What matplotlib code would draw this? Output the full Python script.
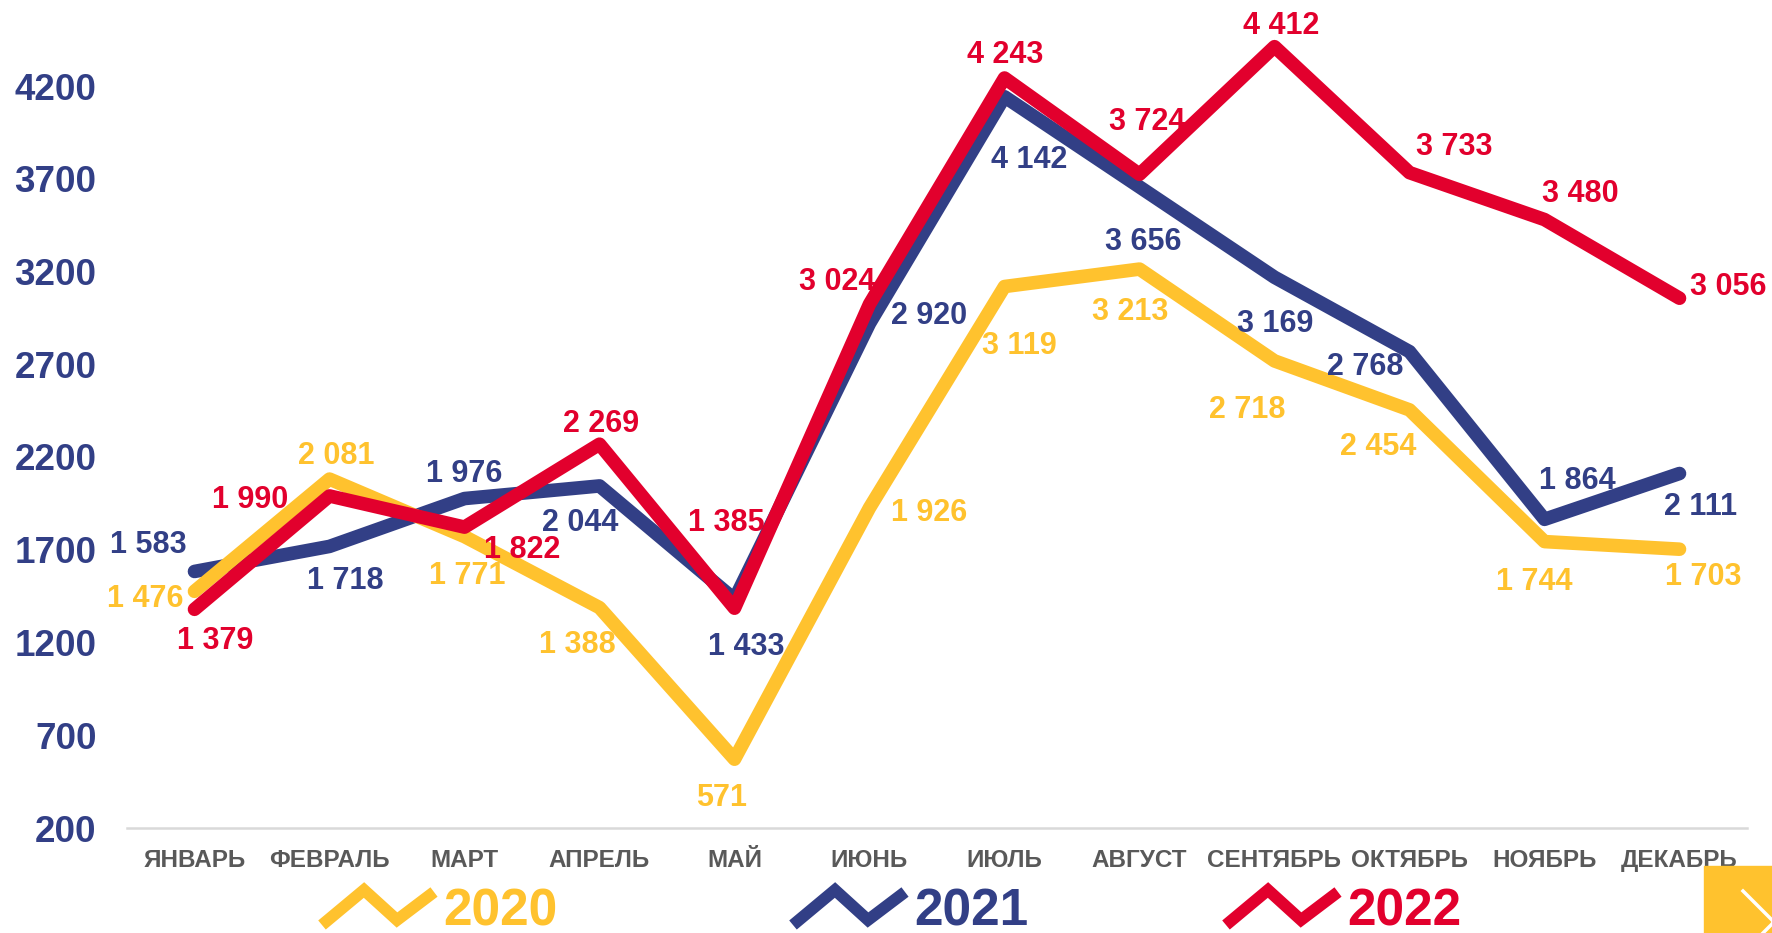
import matplotlib
matplotlib.use("Agg")
import matplotlib.pyplot as plt
from matplotlib.lines import Line2D
from matplotlib.patches import Rectangle

plt.rcParams['font.family'] = ['Liberation Sans', 'DejaVu Sans']

# данные
months = ['ЯНВАРЬ', 'ФЕВРАЛЬ', 'МАРТ', 'АПРЕЛЬ', 'МАЙ', 'ИЮНЬ', 'ИЮЛЬ',
          'АВГУСТ', 'СЕНТЯБРЬ', 'ОКТЯБРЬ', 'НОЯБРЬ', 'ДЕКАБРЬ']
y2020 = [1476, 2081, 1771, 1388, 571, 1926, 3119, 3213, 2718, 2454, 1744, 1703]
y2021 = [1583, 1718, 1976, 2044, 1433, 2920, 4142, 3656, 3169, 2768, 1864, 2111]
y2022 = [1379, 1990, 1822, 2269, 1385, 3024, 4243, 3724, 4412, 3733, 3480, 3056]
years = ['2020', '2021', '2022']
yticks = [200, 700, 1200, 1700, 2200, 2700, 3200, 3700, 4200]

c_yel = '#FFC22E'
c_navy = '#323F86'
c_red = '#E2002D'

# смещения подписей (пиксели, y вниз)
off2020 = [(-44, 4), (6, -23), (2, 32), (-20, 30), (-11, 31), (53, 2), (13, 50),
           (-8, 35), (-24, 40), (-28, 30), (-9, 33), (21, 22)]
off2021 = [(-41, -26), (14, 28), (0, -25), (-17, 30), (10, 39), (53, -10), (22, 53),
           (3, 46), (1, 38), (-39, 11), (29, -37), (19, 27)]
off2022 = [(18, 25), (-70, 1), (51, 17), (1, -21), (-7, -78), (-29, -23), (1, -23),
           (7, -49), (6, -21), (40, -26), (32, -26), (43, -13)]

W, H = 1772, 933
fig = plt.figure(figsize=(W / 100, H / 100), dpi=100)
ax = fig.add_axes([127 / W, (H - 828) / H, (1747 - 127) / W, (828 - 11.8) / H])

x = list(range(len(months)))
series = [(y2021, c_navy, off2021, 2), (y2020, c_yel, off2020, 3), (y2022, c_red, off2022, 4)]
for vals, col, offs, z in series:
    ax.plot(x, vals, color=col, lw=9.8, solid_capstyle='round', solid_joinstyle='round', zorder=z)
for vals, col, offs, z in series:
    for xi, v, (dx, dy) in zip(x, vals, offs):
        ax.annotate(f"{v:,}".replace(",", " "), (xi, v), xytext=(dx * 1.13, -(dy + 3) * 1.13),
                    textcoords='offset pixels', ha='center', va='center',
                    fontsize=22, fontweight='bold', color=col, zorder=10)

ax.set_xlim(-0.5, len(months) - 0.5)
ax.set_ylim(200, 4600)
ax.set_yticks(yticks)
ax.set_xticks(x)
ax.set_xticklabels(months)
for s in ['top', 'right', 'left']:
    ax.spines[s].set_visible(False)
ax.spines['bottom'].set_color('#D9D9D9')
ax.spines['bottom'].set_linewidth(1.8)
ax.tick_params(axis='y', length=0, pad=22, labelsize=26.5, labelcolor=c_navy)
ax.tick_params(axis='x', length=0, pad=15, labelsize=17.5, labelcolor='#595959')
for lab in ax.get_yticklabels() + ax.get_xticklabels():
    lab.set_fontweight('bold')

# легенда
def px(xp, yp):
    return xp / W, (H - yp) / H

zig = [(0, 40), (42, 5), (75, 35), (112, 7)]
for x0, col, name in [(322, c_yel, years[0]), (793, c_navy, years[1]), (1226, c_red, years[2])]:
    xs = [px(x0 + a, 885 + b)[0] for a, b in zig]
    ys = [px(x0 + a, 885 + b)[1] for a, b in zig]
    fig.add_artist(Line2D(xs, ys, color=col, lw=8.5, solid_joinstyle='miter',
                          solid_capstyle='butt'))
    tx, ty = px(x0 + 121, 925)
    fig.text(tx, ty, name, color=col, fontsize=37, fontweight='bold', ha='left', va='baseline')

# кнопка в углу
bx, by = px(1704, 933)
fig.add_artist(Rectangle((bx, by), (W - 1704) / W, 67 / H, color=c_yel, transform=fig.transFigure))
cx = [px(1743, 891)[0], px(1774, 922)[0], px(1743, 953)[0]]
cy = [px(1743, 891)[1], px(1774, 922)[1], px(1743, 953)[1]]
fig.add_artist(Line2D(cx, cy, color='white', lw=2.5))

fig.savefig('out.png', dpi=100)
